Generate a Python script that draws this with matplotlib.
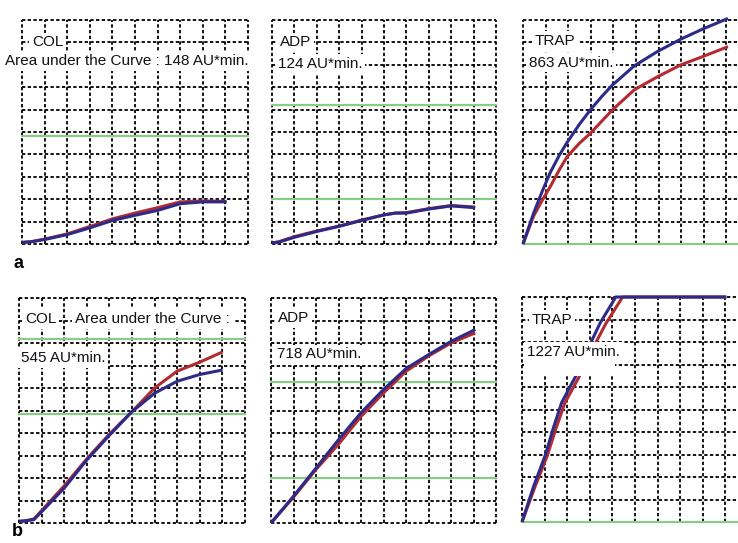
import matplotlib
matplotlib.use("Agg")
import matplotlib.pyplot as plt
from matplotlib.patches import Rectangle

plt.rcParams['lines.scale_dashes'] = False
plt.rcParams['font.family'] = ['Liberation Sans', 'DejaVu Sans']

# ---------------- data (grid units: time 0-10, signal 0-10) ----------------
t_a_col = [0, 0.4, 1, 2, 3, 4, 5, 6, 7, 8, 9.05]
a_col_blue = [0.07, 0.1, 0.2, 0.42, 0.72, 1.05, 1.28, 1.5, 1.8, 1.88, 1.88]
a_col_red = [0.07, 0.1, 0.22, 0.45, 0.78, 1.12, 1.38, 1.62, 1.88, 1.92, 1.9]
a_col_green = [4.8]

t_a_adp = [0, 0.3, 1, 2, 3, 4, 5, 5.5, 6, 7, 8, 9.07]
a_adp_blue = [0.05, 0.08, 0.3, 0.56, 0.79, 1.05, 1.3, 1.38, 1.38, 1.56, 1.7, 1.62]
a_adp_red = [0.05, 0.1, 0.33, 0.58, 0.8, 1.07, 1.3, 1.38, 1.4, 1.58, 1.72, 1.65]
a_adp_green = [6.2, 2.0]

t_a_trap = [0, 0.47, 0.85, 1.21, 1.6, 1.96, 2.5, 2.99, 3.5, 3.96, 4.92, 5.96, 6.99, 7.96, 9.07]
a_trap_blue = [0, 1.38, 2.35, 3.2, 3.95, 4.55, 5.35, 6.0, 6.6, 7.1, 7.95, 8.6, 9.15, 9.6, 10.07]
a_trap_red = [0, 1.25, 1.95, 2.57, 3.3, 3.91, 4.5, 4.95, 5.5, 5.99, 6.88, 7.47, 8.0, 8.37, 8.81]
a_trap_green = [0.0]

t_b_col = [0, 0.3, 0.66, 1, 2, 3, 4, 5, 6, 7, 8, 9.0]
b_col_blue = [0.07, 0.1, 0.15, 0.5, 1.55, 2.8, 3.9, 4.95, 5.77, 6.3, 6.6, 6.8]
b_col_red = [0.07, 0.1, 0.18, 0.55, 1.65, 2.85, 3.95, 4.95, 6.0, 6.75, 7.15, 7.6]
b_col_green = [8.2, 4.85]

t_b_adp = [0, 1, 2, 3, 4, 5, 6, 7, 8, 9.08]
b_adp_blue = [0, 1.19, 2.44, 3.7, 4.9, 5.93, 6.86, 7.48, 8.07, 8.6]
b_adp_red = [0, 1.15, 2.38, 3.5, 4.74, 5.78, 6.74, 7.42, 8.0, 8.45]
b_adp_green = [6.25, 2.0]

t_b_trap_blue = [0, 0.51, 1.03, 1.4, 1.76, 2.35, 2.94, 3.46, 4.15, 9.04]
b_trap_blue = [0, 1.57, 2.97, 4.22, 5.32, 6.43, 7.75, 8.85, 10, 10]
t_b_trap_red = [0, 0.55, 1.12, 1.5, 1.9, 2.5, 3.15, 3.7, 4.45, 9.04]
b_trap_red = [0, 1.5, 2.95, 4.15, 5.3, 6.4, 7.75, 8.8, 10, 10]
b_trap_green = [0.0]

# ---------------- layout / style ----------------
W, H = 738, 543
fig = plt.figure(figsize=(W / 100, H / 100), dpi=100)
fig.patch.set_facecolor('white')

BLUE = '#2d2b88'
RED = '#b32a30'
GREEN = '#8acb88'
GRID_LS = (0, (2.4, 1.7))

panels = [
    dict(rect=(22, 20, 248, 244), tb=t_a_col, b=a_col_blue, tr=t_a_col, r=a_col_red, g=a_col_green,
         texts=[(0.44, 9.0, 'COL'), (-0.75, 8.17, 'Area under the Curve : 148 AU*min.')], boxes=[]),
    dict(rect=(272, 20, 496, 244), tb=t_a_adp, b=a_adp_blue, tr=t_a_adp, r=a_adp_red, g=a_adp_green,
         texts=[(0.36, 9.0, 'ADP'), (0.27, 8.04, '124 AU*min.')], boxes=[]),
    dict(rect=(523, 20, 749, 244), tb=t_a_trap, b=a_trap_blue, tr=t_a_trap, r=a_trap_red, g=a_trap_green,
         texts=[(0.53, 9.06, 'TRAP'), (0.27, 8.1, '863 AU*min.')], boxes=[]),
    dict(rect=(19, 298, 245, 523), tb=t_b_col, b=b_col_blue, tr=t_b_col, r=b_col_red, g=b_col_green,
         texts=[(0.27, 9.07, 'COL'), (2.48, 9.07, 'Area under the Curve :'), (0.09, 7.33, '545 AU*min.')],
         boxes=[]),
    dict(rect=(271, 298, 496, 523), tb=t_b_adp, b=b_adp_blue, tr=t_b_adp, r=b_adp_red, g=b_adp_green,
         texts=[(0.31, 9.1, 'ADP'), (0.27, 7.5, '718 AU*min.')], boxes=[]),
    dict(rect=(522, 297, 748, 522), tb=t_b_trap_blue, b=b_trap_blue, tr=t_b_trap_red, r=b_trap_red,
         g=b_trap_green, texts=[(0.44, 8.98, 'TRAP'), (0.22, 7.55, '1227 AU*min.')],
         boxes=[(0.1, 6.5, 4.0, 1.35)]),
]

for p in panels:
    l, t, r, b = p['rect']
    ax = fig.add_axes([l / W, 1 - b / H, (r - l) / W, (b - t) / H])
    ax.set_xlim(0, 10)
    ax.set_ylim(0, 10)
    ax.axis('off')
    for k in range(11):
        ax.axvline(k, color='black', lw=1.3, linestyle=GRID_LS, clip_on=False, zorder=1)
        ax.axhline(k, color='black', lw=1.3, linestyle=GRID_LS, clip_on=False, zorder=1)
    for gy in p['g']:
        ax.axhline(gy, color=GREEN, lw=1.6, clip_on=False, zorder=2)
    ax.plot(p['tr'], p['r'], color=RED, lw=2.2, clip_on=False, zorder=3, solid_capstyle='butt')
    ax.plot(p['tb'], p['b'], color=BLUE, lw=2.2, clip_on=False, zorder=4, solid_capstyle='butt')
    for (bx, by, bw, bh) in p['boxes']:
        ax.add_patch(Rectangle((bx, by), bw, bh, facecolor='white', edgecolor='none', zorder=5))
    for x, y, s in p['texts']:
        ax.text(x, y, s, fontsize=11, ha='left', va='center', color='#111111', zorder=6,
                bbox=dict(facecolor='white', edgecolor='none', pad=2.0))

fig.text(14 / W, 1 - 264 / H, 'a', fontsize=13, fontweight='bold', ha='left', va='center')
fig.text(12 / W, 1 - 532 / H, 'b', fontsize=13, fontweight='bold', ha='left', va='center')

fig.savefig('out.png', dpi=100, facecolor='white')
